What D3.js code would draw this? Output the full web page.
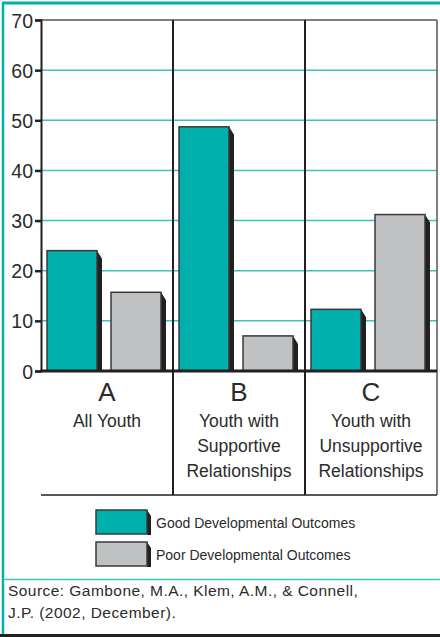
<!DOCTYPE html>
<html>
<head>
<meta charset="utf-8">
<script src="https://cdn.jsdelivr.net/npm/d3@7"></script>
<style>
  body { margin: 0; background: #fff; }
  svg text { font-family: "Liberation Sans", Arial, sans-serif; fill: #2b2b2b; }
</style>
</head>
<body>
<div id="chart"></div>
<script>
// chart values
const categories = ['A', 'B', 'C'];
const categoryNames = [
  ['All Youth'],
  ['Youth with', 'Supportive', 'Relationships'],
  ['Youth with', 'Unsupportive', 'Relationships']
];
const series = ['Good Developmental Outcomes', 'Poor Developmental Outcomes'];
const goodValues = [24, 48.7, 12.3];
const poorValues = [15.7, 7, 31.2];
const yTicks = [0, 10, 20, 30, 40, 50, 60, 70];
const sourceLines = [
  'Source: Gambone, M.A., Klem, A.M., & Connell,',
  'J.P. (2002, December).'
];

const colors = { good: '#00b0ac', poor: '#c0c1c3', grid: '#3cc3bf', frame: '#00b0ac' };
const W = 440, H = 637;
const plot = { left: 41, right: 437, top: 20, bottom: 371, labelBottom: 495 };
const side = 5; // depth of the dark side on bars

const svg = d3.select('#chart').append('svg')
  .attr('width', W).attr('height', H);

// outer frame
svg.append('line').attr('x1', 3).attr('x2', 3).attr('y1', 2).attr('y2', 634)
  .attr('stroke', colors.frame).attr('stroke-width', 2.5);
svg.append('line').attr('x1', 2).attr('x2', W).attr('y1', 3).attr('y2', 3)
  .attr('stroke', colors.frame).attr('stroke-width', 3);
svg.append('line').attr('x1', 3).attr('x2', W).attr('y1', 579.5).attr('y2', 579.5)
  .attr('stroke', colors.grid).attr('stroke-width', 1.5);
svg.append('line').attr('x1', 0).attr('x2', W).attr('y1', 635.5).attr('y2', 635.5)
  .attr('stroke', '#231f20').attr('stroke-width', 3);

const y = d3.scaleLinear().domain([0, 70]).range([plot.bottom, plot.top]);
const x0 = d3.scaleBand().domain(categories).range([plot.left, plot.right]);
const x1 = d3.scaleBand().domain(series).range([6, 120]).paddingInner(0.21875);

// gridlines
svg.append('g').attr('id', 'grid')
  .selectAll('line')
  .data(yTicks.filter(d => d > 0 && d < 70))
  .join('line')
    .attr('x1', plot.left).attr('x2', plot.right)
    .attr('y1', d => y(d)).attr('y2', d => y(d))
    .attr('stroke', colors.grid).attr('stroke-width', 1.5);

// plot frame: top, right, label box
svg.append('line').attr('x1', plot.left).attr('x2', plot.right)
  .attr('y1', plot.top).attr('y2', plot.top)
  .attr('stroke', '#555').attr('stroke-width', 1.5);
svg.append('line').attr('x1', plot.right).attr('x2', plot.right)
  .attr('y1', plot.top).attr('y2', plot.labelBottom)
  .attr('stroke', '#555').attr('stroke-width', 1.5);
svg.append('line').attr('x1', plot.left).attr('x2', plot.right)
  .attr('y1', plot.labelBottom).attr('y2', plot.labelBottom)
  .attr('stroke', '#231f20').attr('stroke-width', 1.5);

// category dividers
svg.append('g').attr('id', 'dividers')
  .selectAll('line')
  .data(categories.slice(1))
  .join('line')
    .attr('x1', d => x0(d)).attr('x2', d => x0(d))
    .attr('y1', plot.top).attr('y2', plot.labelBottom)
    .attr('stroke', '#231f20').attr('stroke-width', 2);

// bars
const rows = categories.map((c, i) => [
  { cat: c, key: series[0], value: goodValues[i], fill: colors.good },
  { cat: c, key: series[1], value: poorValues[i], fill: colors.poor }
]).flat();

const barG = svg.append('g').attr('id', 'bars');
const bw = x1.bandwidth();

barG.selectAll('path.side')
  .data(rows)
  .join('path')
    .attr('class', 'side')
    .attr('fill', '#231f20')
    .attr('d', d => {
      const bx = x0(d.cat) + x1(d.key) + bw, top = y(d.value), bot = y(0);
      return `M${bx},${top}L${bx + side},${top + 8}L${bx + side},${bot}L${bx},${bot}Z`;
    });

barG.selectAll('rect')
  .data(rows)
  .join('rect')
    .attr('x', d => x0(d.cat) + x1(d.key))
    .attr('y', d => y(d.value))
    .attr('width', bw)
    .attr('height', d => y(0) - y(d.value))
    .attr('fill', d => d.fill)
    .attr('stroke', '#3a3a3a').attr('stroke-width', 1.5);

// y axis
const yAxis = svg.append('g').attr('id', 'axis-y')
  .attr('transform', `translate(${plot.left} 0)`)
  .call(d3.axisLeft(y).tickValues(yTicks).tickSize(6).tickPadding(2));
yAxis.select('.domain').attr('stroke', '#231f20').attr('stroke-width', 2);
yAxis.selectAll('.tick line').attr('stroke', '#231f20').attr('stroke-width', 2.5);
yAxis.selectAll('.tick text')
  .style('font-family', '"Liberation Sans Narrow", "Arial Narrow", sans-serif')
  .style('font-size', '19.5px')
  .attr('dy', '0.36em')
  .attr('fill', '#2b2b2b');

// baseline at 0
svg.append('line').attr('x1', plot.left - 1).attr('x2', plot.right)
  .attr('y1', y(0)).attr('y2', y(0))
  .attr('stroke', '#231f20').attr('stroke-width', 3);

// category labels
const catG = svg.append('g').attr('id', 'cat-labels');
catG.selectAll('text.letter')
  .data(categories)
  .join('text')
    .attr('class', 'letter')
    .attr('x', d => x0(d) + x0.bandwidth() / 2)
    .attr('y', 401)
    .attr('text-anchor', 'middle')
    .attr('font-size', 26)
    .text(d => d);

categories.forEach((c, i) => {
  catG.append('text')
    .attr('x', x0(c) + x0.bandwidth() / 2)
    .attr('y', 427)
    .attr('text-anchor', 'middle')
    .attr('font-size', 17.5)
    .selectAll('tspan')
    .data(categoryNames[i])
    .join('tspan')
      .attr('x', x0(c) + x0.bandwidth() / 2)
      .attr('dy', (d, j) => j === 0 ? 0 : 25)
      .text(d => d);
});

// legend
const legend = svg.append('g').attr('id', 'legend')
  .selectAll('g')
  .data(series)
  .join('g')
    .attr('transform', (d, i) => `translate(96 ${510 + i * 32})`);
legend.append('path')
  .attr('fill', '#231f20')
  .attr('d', `M51,0L${51 + 4},6L${51 + 4},25L51,25Z`);
legend.append('rect')
  .attr('width', 51).attr('height', 24)
  .attr('fill', (d, i) => i === 0 ? colors.good : colors.poor)
  .attr('stroke', '#3a3a3a').attr('stroke-width', 1.5);
legend.append('text')
  .attr('x', 60).attr('y', 18)
  .attr('font-size', 14)
  .text(d => d);

// source note
svg.append('g').attr('id', 'source')
  .selectAll('text')
  .data(sourceLines)
  .join('text')
    .attr('x', 8)
    .attr('y', (d, i) => 596 + i * 22)
    .attr('font-size', 15.5)
    .attr('letter-spacing', 0.45)
    .text(d => d);
</script>
</body>
</html>
